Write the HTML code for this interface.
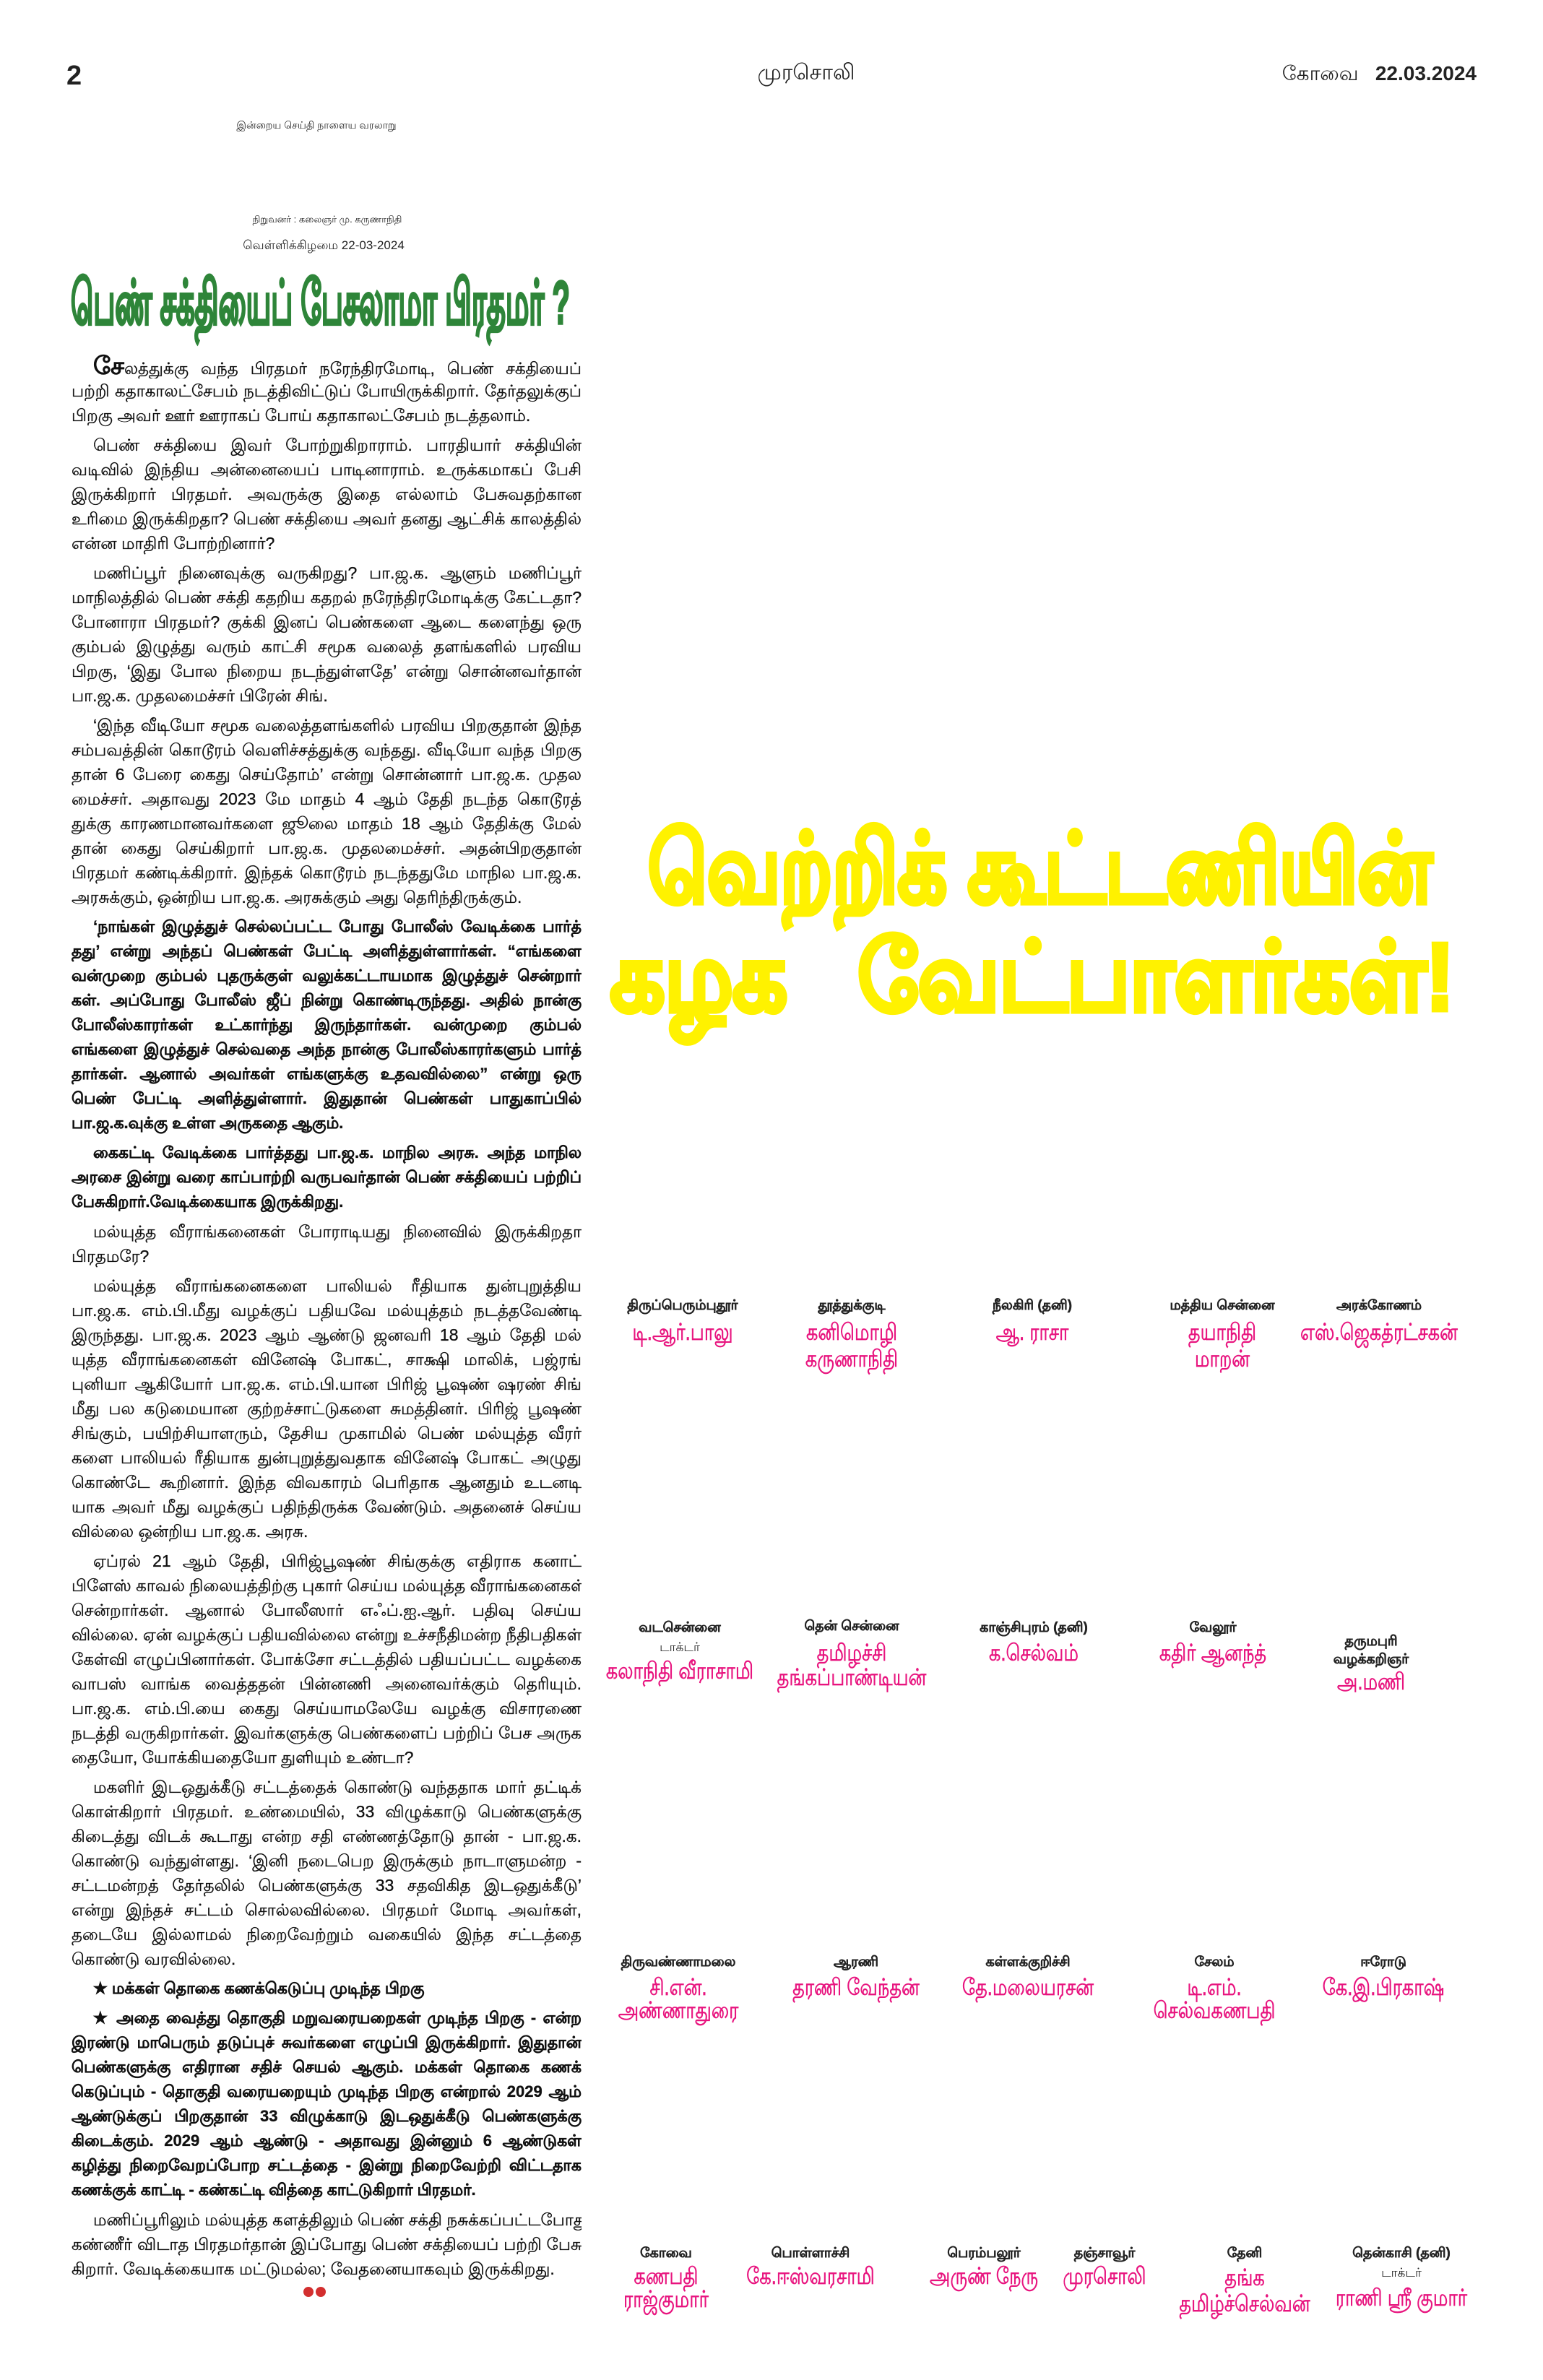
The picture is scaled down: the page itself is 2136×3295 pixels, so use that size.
<!DOCTYPE html>
<html><head><meta charset="utf-8">
<style>
html,body{margin:0;padding:0;background:#fff;}
body{width:2136px;height:3295px;position:relative;overflow:hidden;font-family:"Liberation Sans",sans-serif;color:#222;}
.a{position:absolute;white-space:nowrap;}
#body{position:absolute;left:99px;top:490px;width:706px;font-size:23px;color:#111;-webkit-text-stroke:0.35px #111;}
#body .l{height:34px;line-height:34px;white-space:nowrap;overflow:hidden;text-align:justify;text-align-last:justify;}
#body .e{text-align-last:left;}
#body .i{padding-left:30px;}
#body .p{margin-top:7px;}
#body .b{font-weight:bold;font-size:22px;}
.lab{position:absolute;width:300px;text-align:center;font-weight:bold;font-size:19px;line-height:24px;color:#222;white-space:nowrap;-webkit-text-stroke:0.4px #222;}
.nm{position:absolute;width:300px;text-align:center;font-size:32px;line-height:37px;color:#e8157f;white-space:nowrap;transform:scaleX(0.8);-webkit-text-stroke:0.7px #e8157f;}
.dr{position:absolute;width:300px;text-align:center;font-size:17px;line-height:24px;color:#222;white-space:nowrap;}
</style></head><body>

<div class="a" style="left:92px;top:84px;font-size:38px;font-weight:bold;">2</div>
<div class="a" style="left:1000px;top:84px;width:232px;text-align:center;font-size:30px;">முரசொலி</div>
<div class="a" style="right:92px;top:86px;font-size:28px;">கோவை &nbsp; <b>22.03.2024</b></div>

<div class="a" style="left:323px;top:165px;width:230px;text-align:center;font-size:14px;">இன்றைய செய்தி நாளைய வரலாறு</div>
<div class="a" style="left:323px;top:296px;width:260px;text-align:center;font-size:13px;">நிறுவனர் : கலைஞர் மு. கருணாநிதி</div>
<div class="a" style="left:313px;top:330px;width:270px;text-align:center;font-size:17px;">வெள்ளிக்கிழமை 22-03-2024</div>

<svg class="a" style="left:0;top:0" width="2136" height="3295" viewBox="0 0 2136 3295">
<text x="98" y="448" textLength="691" lengthAdjust="spacingAndGlyphs" font-family="Liberation Sans, sans-serif" font-weight="bold" font-size="84" fill="#2e8539" stroke="#2e8539" stroke-width="3.5">பெண் சக்தியைப் பேசலாமா பிரதமர் ?</text>
<text x="897" y="1248" textLength="1085" lengthAdjust="spacingAndGlyphs" font-family="Liberation Sans, sans-serif" font-weight="bold" font-size="132" fill="#fff200" stroke="#fff200" stroke-width="7">வெற்றிக் கூட்டணியின்</text>
<text x="845" y="1398" textLength="1168" lengthAdjust="spacingAndGlyphs" font-family="Liberation Sans, sans-serif" font-weight="bold" font-size="132" fill="#fff200" stroke="#fff200" stroke-width="7">கழக &#160; வேட்பாளர்கள்!</text>
<circle cx="427" cy="3173" r="7" fill="#d32f2f"/>
<circle cx="444" cy="3173" r="7" fill="#d32f2f"/>
</svg>

<div id="body">
<div class="l i"><span style="font-size:34px;font-weight:bold;">சே</span>லத்துக்கு வந்த பிரதமர் நரேந்திரமோடி, பெண் சக்தியைப்</div>
<div class="l">பற்றி கதாகாலட்சேபம் நடத்திவிட்டுப் போயிருக்கிறார். தேர்தலுக்குப்</div>
<div class="l e">பிறகு அவர் ஊர் ஊராகப் போய் கதாகாலட்சேபம் நடத்தலாம்.</div>

<div class="l i p">பெண் சக்தியை இவர் போற்றுகிறாராம். பாரதியார் சக்தியின்</div>
<div class="l">வடிவில் இந்திய அன்னையைப் பாடினாராம். உருக்கமாகப் பேசி</div>
<div class="l">இருக்கிறார் பிரதமர். அவருக்கு இதை எல்லாம் பேசுவதற்கான</div>
<div class="l">உரிமை இருக்கிறதா? பெண் சக்தியை அவர் தனது ஆட்சிக் காலத்தில்</div>
<div class="l e">என்ன மாதிரி போற்றினார்?</div>

<div class="l i p">மணிப்பூர் நினைவுக்கு வருகிறது? பா.ஜ.க. ஆளும் மணிப்பூர்</div>
<div class="l">மாநிலத்தில் பெண் சக்தி கதறிய கதறல் நரேந்திரமோடிக்கு கேட்டதா?</div>
<div class="l">போனாரா பிரதமர்? குக்கி இனப் பெண்களை ஆடை களைந்து ஒரு</div>
<div class="l">கும்பல் இழுத்து வரும் காட்சி சமூக வலைத் தளங்களில் பரவிய</div>
<div class="l">பிறகு, ‘இது போல நிறைய நடந்துள்ளதே’ என்று சொன்னவர்தான்</div>
<div class="l e">பா.ஜ.க. முதலமைச்சர் பிரேன் சிங்.</div>

<div class="l i p">‘இந்த வீடியோ சமூக வலைத்தளங்களில் பரவிய பிறகுதான் இந்த</div>
<div class="l">சம்பவத்தின் கொடூரம் வெளிச்சத்துக்கு வந்தது. வீடியோ வந்த பிறகு</div>
<div class="l">தான் 6 பேரை கைது செய்தோம்’ என்று சொன்னார் பா.ஜ.க. முதல</div>
<div class="l">மைச்சர். அதாவது 2023 மே மாதம் 4 ஆம் தேதி நடந்த கொடூரத்</div>
<div class="l">துக்கு காரணமானவர்களை ஜூலை மாதம் 18 ஆம் தேதிக்கு மேல்</div>
<div class="l">தான் கைது செய்கிறார் பா.ஜ.க. முதலமைச்சர். அதன்பிறகுதான்</div>
<div class="l">பிரதமர் கண்டிக்கிறார். இந்தக் கொடூரம் நடந்ததுமே மாநில பா.ஜ.க.</div>
<div class="l e">அரசுக்கும், ஒன்றிய பா.ஜ.க. அரசுக்கும் அது தெரிந்திருக்கும்.</div>

<div class="b">
<div class="l i p">‘நாங்கள் இழுத்துச் செல்லப்பட்ட போது போலீஸ் வேடிக்கை பார்த்</div>
<div class="l">தது’ என்று அந்தப் பெண்கள் பேட்டி அளித்துள்ளார்கள். “எங்களை</div>
<div class="l">வன்முறை கும்பல் புதருக்குள் வலுக்கட்டாயமாக இழுத்துச் சென்றார்</div>
<div class="l">கள். அப்போது போலீஸ் ஜீப் நின்று கொண்டிருந்தது. அதில் நான்கு</div>
<div class="l">போலீஸ்காரர்கள் உட்கார்ந்து இருந்தார்கள். வன்முறை கும்பல்</div>
<div class="l">எங்களை இழுத்துச் செல்வதை அந்த நான்கு போலீஸ்காரர்களும் பார்த்</div>
<div class="l">தார்கள். ஆனால் அவர்கள் எங்களுக்கு உதவவில்லை” என்று ஒரு</div>
<div class="l">பெண் பேட்டி அளித்துள்ளார். இதுதான் பெண்கள் பாதுகாப்பில்</div>
<div class="l e">பா.ஜ.க.வுக்கு உள்ள அருகதை ஆகும்.</div>

<div class="l i p">கைகட்டி வேடிக்கை பார்த்தது பா.ஜ.க. மாநில அரசு. அந்த மாநில</div>
<div class="l">அரசை இன்று வரை காப்பாற்றி வருபவர்தான் பெண் சக்தியைப் பற்றிப்</div>
<div class="l e">பேசுகிறார்.வேடிக்கையாக இருக்கிறது.</div>
</div>

<div class="l i p">மல்யுத்த வீராங்கனைகள் போராடியது நினைவில் இருக்கிறதா</div>
<div class="l e">பிரதமரே?</div>

<div class="l i p">மல்யுத்த வீராங்கனைகளை பாலியல் ரீதியாக துன்புறுத்திய</div>
<div class="l">பா.ஜ.க. எம்.பி.மீது வழக்குப் பதியவே மல்யுத்தம் நடத்தவேண்டி</div>
<div class="l">இருந்தது. பா.ஜ.க. 2023 ஆம் ஆண்டு ஜனவரி 18 ஆம் தேதி மல்</div>
<div class="l">யுத்த வீராங்கனைகள் வினேஷ் போகட், சாக்ஷி மாலிக், பஜ்ரங்</div>
<div class="l">புனியா ஆகியோர் பா.ஜ.க. எம்.பி.யான பிரிஜ் பூஷண் ஷரண் சிங்</div>
<div class="l">மீது பல கடுமையான குற்றச்சாட்டுகளை சுமத்தினர். பிரிஜ் பூஷண்</div>
<div class="l">சிங்கும், பயிற்சியாளரும், தேசிய முகாமில் பெண் மல்யுத்த வீரர்</div>
<div class="l">களை பாலியல் ரீதியாக துன்புறுத்துவதாக வினேஷ் போகட் அழுது</div>
<div class="l">கொண்டே கூறினார். இந்த விவகாரம் பெரிதாக ஆனதும் உடனடி</div>
<div class="l">யாக அவர் மீது வழக்குப் பதிந்திருக்க வேண்டும். அதனைச் செய்ய</div>
<div class="l e">வில்லை ஒன்றிய பா.ஜ.க. அரசு.</div>

<div class="l i p">ஏப்ரல் 21 ஆம் தேதி, பிரிஜ்பூஷண் சிங்குக்கு எதிராக கனாட்</div>
<div class="l">பிளேஸ் காவல் நிலையத்திற்கு புகார் செய்ய மல்யுத்த வீராங்கனைகள்</div>
<div class="l">சென்றார்கள். ஆனால் போலீஸார் எஃப்.ஐ.ஆர். பதிவு செய்ய</div>
<div class="l">வில்லை. ஏன் வழக்குப் பதியவில்லை என்று உச்சநீதிமன்ற நீதிபதிகள்</div>
<div class="l">கேள்வி எழுப்பினார்கள். போக்சோ சட்டத்தில் பதியப்பட்ட வழக்கை</div>
<div class="l">வாபஸ் வாங்க வைத்ததன் பின்னணி அனைவர்க்கும் தெரியும்.</div>
<div class="l">பா.ஜ.க. எம்.பி.யை கைது செய்யாமலேயே வழக்கு விசாரணை</div>
<div class="l">நடத்தி வருகிறார்கள். இவர்களுக்கு பெண்களைப் பற்றிப் பேச அருக</div>
<div class="l e">தையோ, யோக்கியதையோ துளியும் உண்டா?</div>

<div class="l i p">மகளிர் இடஒதுக்கீடு சட்டத்தைக் கொண்டு வந்ததாக மார் தட்டிக்</div>
<div class="l">கொள்கிறார் பிரதமர். உண்மையில், 33 விழுக்காடு பெண்களுக்கு</div>
<div class="l">கிடைத்து விடக் கூடாது என்ற சதி எண்ணத்தோடு தான் - பா.ஜ.க.</div>
<div class="l">கொண்டு வந்துள்ளது. ‘இனி நடைபெற இருக்கும் நாடாளுமன்ற -</div>
<div class="l">சட்டமன்றத் தேர்தலில் பெண்களுக்கு 33 சதவிகித இடஒதுக்கீடு’</div>
<div class="l">என்று இந்தச் சட்டம் சொல்லவில்லை. பிரதமர் மோடி அவர்கள்,</div>
<div class="l">தடையே இல்லாமல் நிறைவேற்றும் வகையில் இந்த சட்டத்தை</div>
<div class="l e">கொண்டு வரவில்லை.</div>

<div class="b">
<div class="l i p e">★ மக்கள் தொகை கணக்கெடுப்பு முடிந்த பிறகு</div>
<div class="l i p">★ அதை வைத்து தொகுதி மறுவரையறைகள் முடிந்த பிறகு - என்ற</div>
<div class="l">இரண்டு மாபெரும் தடுப்புச் சுவர்களை எழுப்பி இருக்கிறார். இதுதான்</div>
<div class="l">பெண்களுக்கு எதிரான சதிச் செயல் ஆகும். மக்கள் தொகை கணக்</div>
<div class="l">கெடுப்பும் - தொகுதி வரையறையும் முடிந்த பிறகு என்றால் 2029 ஆம்</div>
<div class="l">ஆண்டுக்குப் பிறகுதான் 33 விழுக்காடு இடஒதுக்கீடு பெண்களுக்கு</div>
<div class="l">கிடைக்கும். 2029 ஆம் ஆண்டு - அதாவது இன்னும் 6 ஆண்டுகள்</div>
<div class="l">கழித்து நிறைவேறப்போற சட்டத்தை - இன்று நிறைவேற்றி விட்டதாக</div>
<div class="l e">கணக்குக் காட்டி - கண்கட்டி வித்தை காட்டுகிறார் பிரதமர்.</div>
</div>

<div class="l i p">மணிப்பூரிலும் மல்யுத்த களத்திலும் பெண் சக்தி நசுக்கப்பட்டபோது</div>
<div class="l">கண்ணீர் விடாத பிரதமர்தான் இப்போது பெண் சக்தியைப் பற்றி பேசு</div>
<div class="l e">கிறார். வேடிக்கையாக மட்டுமல்ல; வேதனையாகவும் இருக்கிறது.</div>
</div>

<!-- Row 1 -->
<div class="lab" style="left:795px;top:1796px;">திருப்பெரும்புதூர்</div>
<div class="nm" style="left:795px;top:1826px;">டி.ஆர்.பாலு</div>
<div class="lab" style="left:1029px;top:1796px;">தூத்துக்குடி</div>
<div class="nm" style="left:1029px;top:1826px;">கனிமொழி</div>
<div class="nm" style="left:1029px;top:1863px;">கருணாநிதி</div>
<div class="lab" style="left:1279px;top:1796px;">நீலகிரி (தனி)</div>
<div class="nm" style="left:1279px;top:1826px;">ஆ. ராசா</div>
<div class="lab" style="left:1542px;top:1796px;">மத்திய சென்னை</div>
<div class="nm" style="left:1542px;top:1826px;">தயாநிதி</div>
<div class="nm" style="left:1542px;top:1863px;">மாறன்</div>
<div class="lab" style="left:1759px;top:1796px;">அரக்கோணம்</div>
<div class="nm" style="left:1759px;top:1826px;">எஸ்.ஜெகத்ரட்சகன்</div>

<!-- Row 2 -->
<div class="lab" style="left:791px;top:2242px;">வடசென்னை</div>
<div class="dr" style="left:791px;top:2269px;">டாக்டர்</div>
<div class="nm" style="left:791px;top:2295px;">கலாநிதி வீராசாமி</div>
<div class="lab" style="left:1029px;top:2240px;">தென் சென்னை</div>
<div class="nm" style="left:1029px;top:2270px;">தமிழச்சி</div>
<div class="nm" style="left:1029px;top:2304px;">தங்கப்பாண்டியன்</div>
<div class="lab" style="left:1281px;top:2242px;">காஞ்சிபுரம் (தனி)</div>
<div class="nm" style="left:1281px;top:2270px;">க.செல்வம்</div>
<div class="lab" style="left:1529px;top:2242px;">வேலூர்</div>
<div class="nm" style="left:1529px;top:2270px;">கதிர் ஆனந்த்</div>
<div class="lab" style="left:1748px;top:2261px;">தருமபுரி</div>
<div class="lab" style="left:1748px;top:2286px;">வழக்கறிஞர்</div>
<div class="nm" style="left:1748px;top:2310px;">அ.மணி</div>

<!-- Row 3 -->
<div class="lab" style="left:789px;top:2705px;">திருவண்ணாமலை</div>
<div class="nm" style="left:789px;top:2733px;">சி.என்.</div>
<div class="nm" style="left:789px;top:2765px;">அண்ணாதுரை</div>
<div class="lab" style="left:1035px;top:2705px;">ஆரணி</div>
<div class="nm" style="left:1035px;top:2733px;">தரணி வேந்தன்</div>
<div class="lab" style="left:1273px;top:2705px;">கள்ளக்குறிச்சி</div>
<div class="nm" style="left:1273px;top:2733px;">தே.மலையரசன்</div>
<div class="lab" style="left:1531px;top:2705px;">சேலம்</div>
<div class="nm" style="left:1531px;top:2733px;">டி.எம்.</div>
<div class="nm" style="left:1531px;top:2765px;">செல்வகணபதி</div>
<div class="lab" style="left:1765px;top:2705px;">ஈரோடு</div>
<div class="nm" style="left:1765px;top:2733px;">கே.இ.பிரகாஷ்</div>

<!-- Row 4 -->
<div class="lab" style="left:772px;top:3108px;">கோவை</div>
<div class="nm" style="left:772px;top:3133px;">கணபதி</div>
<div class="nm" style="left:772px;top:3165px;">ராஜ்குமார்</div>
<div class="lab" style="left:972px;top:3108px;">பொள்ளாச்சி</div>
<div class="nm" style="left:972px;top:3133px;">கே.ஈஸ்வரசாமி</div>
<div class="lab" style="left:1212px;top:3108px;">பெரம்பலூர்</div>
<div class="nm" style="left:1212px;top:3133px;">அருண் நேரு</div>
<div class="lab" style="left:1379px;top:3108px;">தஞ்சாவூர்</div>
<div class="nm" style="left:1379px;top:3133px;">முரசொலி</div>
<div class="lab" style="left:1573px;top:3108px;">தேனி</div>
<div class="nm" style="left:1573px;top:3135px;">தங்க</div>
<div class="nm" style="left:1573px;top:3171px;">தமிழ்ச்செல்வன்</div>
<div class="lab" style="left:1790px;top:3108px;">தென்காசி (தனி)</div>
<div class="dr" style="left:1790px;top:3135px;">டாக்டர்</div>
<div class="nm" style="left:1790px;top:3163px;">ராணி ஸ்ரீ குமார்</div>

</body></html>
